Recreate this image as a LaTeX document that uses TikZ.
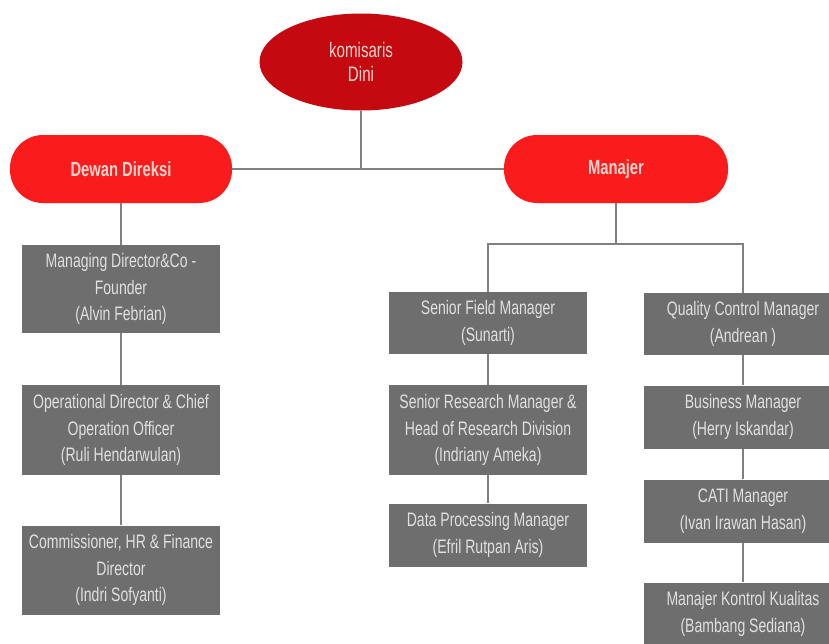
\documentclass[tikz,border=0pt]{standalone}
\usepackage{fontspec}
\newfontfamily\orgfont[FakeStretch=0.72]{Liberation Sans}
\usetikzlibrary{shapes.geometric}
\definecolor{bossred}{RGB}{196,10,16}
\definecolor{headred}{RGB}{250,28,28}
\definecolor{rolegray}{RGB}{110,110,110}
\definecolor{linegray}{RGB}{128,128,128}
\definecolor{paletext}{RGB}{248,214,206}

\begin{document}
\begin{tikzpicture}[
  x=1pt, y=-1pt,
  boss/.style={ellipse, fill=bossred, minimum width=203pt, minimum height=97pt, text=paletext, align=center, font=\orgfont\fontsize{21}{24}\selectfont},
  head/.style={fill=headred, rounded corners=33pt, minimum height=68pt, text=paletext, font=\orgfont\bfseries\fontsize{20.5}{24}\selectfont},
  role/.style={fill=rolegray, minimum width=198pt, inner sep=2pt, text=white!88!black, align=center, font=\orgfont\fontsize{19.5}{26.5}\selectfont},
  link/.style={draw=linegray, line width=1.5pt},
]
\useasboundingbox (0,0) rectangle (829,643);
\fill[white] (0,0) rectangle (829,643);
\clip (0,0) rectangle (829,643);

% --- Top level ---
\node[boss] (komisaris) at (361,62) {komisaris\\Dini};
\node[head, minimum width=222pt] (direksi) at (121,169) {Dewan Direksi};
\node[head, minimum width=224pt] (manajer) at (616,169) {Manajer};

% --- Dewan Direksi column ---
\node[role, minimum height=88pt] (mdir) at (121,289) {Managing Director\&Co -\\Founder\\(Alvin Febrian)};
\node[role, minimum height=90pt] (opdir) at (121,430) {Operational Director \& Chief\\Operation Officer\\(Ruli Hendarwulan)};
\node[role, minimum height=89pt] (comm) at (121,570) {Commissioner, HR \& Finance\\Director\\(Indri Sofyanti)};

% --- Manajer, left column ---
\node[role, minimum height=62pt] (sfm) at (488,323) {Senior Field Manager\\(Sunarti)};
\node[role, minimum height=90pt] (srm) at (488,430) {Senior Research Manager \&\\Head of Research Division\\(Indriany Ameka)};
\node[role, minimum height=63pt] (dpm) at (488,535) {Data Processing Manager\\(Efril Rutpan Aris)};

% --- Manajer, right column ---
\node[role, minimum height=62pt] (qcm) at (743,324) {Quality Control Manager\\(Andrean )};
\node[role, minimum height=63pt] (bm) at (743,417) {Business Manager\\(Herry Iskandar)};
\node[role, minimum height=63pt] (cati) at (743,511) {CATI Manager\\(Ivan Irawan Hasan)};
\node[role, minimum height=63pt] (mkk) at (743,614) {Manajer Kontrol Kualitas\\(Bambang Sediana)};

% Connectors
\coordinate (top joint) at (komisaris.south |- direksi.east);
\coordinate (mgr joint) at (616,244);
\draw[link] (direksi.east) -- (manajer.west);
\draw[link] (komisaris.south) -- (top joint);
\draw[link] (manajer.south) -- (mgr joint);
\draw[link] (sfm.north) |- (mgr joint) -| (qcm.north);
\foreach \a/\b in {direksi/mdir, mdir/opdir, opdir/comm, sfm/srm, srm/dpm, qcm/bm, bm/cati, cati/mkk} {
  \draw[link] (\a.south) -- (\b.north);
}

\end{tikzpicture}
\end{document}
